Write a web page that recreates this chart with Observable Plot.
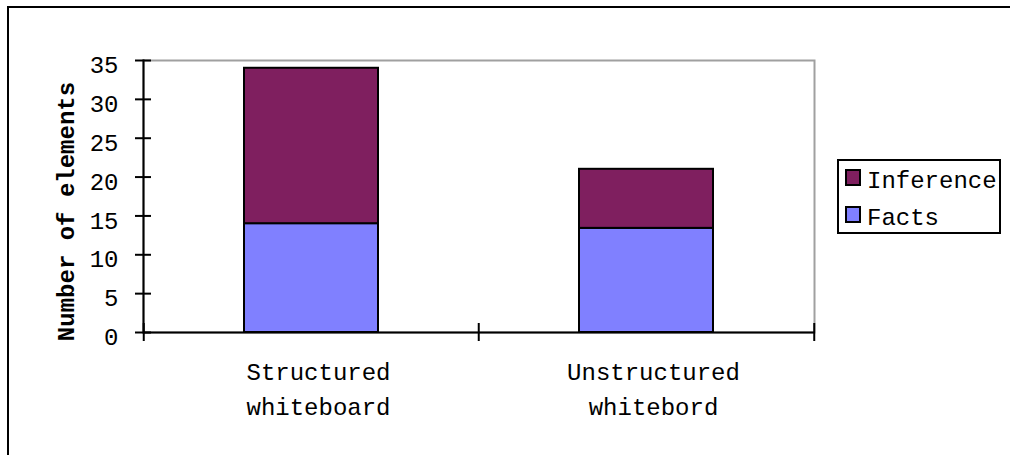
<!DOCTYPE html>
<html>
<head>
<meta charset="utf-8">
<script src="https://cdn.jsdelivr.net/npm/d3@7"></script>
<script src="https://cdn.jsdelivr.net/npm/@observablehq/plot@0.6"></script>
<style>
  html, body { margin: 0; padding: 0; background: #fff; }
  #wrap { position: relative; width: 1010px; height: 455px; overflow: hidden;
          font-family: "Liberation Mono", "Courier New", monospace; }
  #outline { position: absolute; left: 7px; top: 6px; width: 2000px; height: 2000px;
             border-left: 2px solid #000; border-top: 2px solid #000; }
  #chart { position: absolute; left: 0; top: 0; }
  #legend { position: absolute; left: 837px; top: 159px; width: 160px; height: 71px;
            border: 2px solid #000; background: #fff; }
  .row { position: absolute; left: 0; font-size: 24px; line-height: 24px; white-space: nowrap; color: #000; }
  .sw { position: absolute; width: 12px; height: 13px; border: 2px solid #000; }
</style>
</head>
<body>
<div id="wrap">
  <div id="outline"></div>
  <div id="chart"></div>
  <div id="legend"></div>
</div>
<script>
// Categories on the x axis (line break splits the label in two lines)
const categories = ["Structured\nwhiteboard", "Unstructured\nwhitebord"];
// Stacked series, bottom first
const seriesNames = ["Facts", "Inference"];
const facts = [14, 13.4];
const inference = [20, 7.6];
const seriesColors = ["#8080ff", "#7f1f5f"];
const yTicks = [0, 5, 10, 15, 20, 25, 30, 35];
const yTitle = "Number of elements";

const rows = categories.flatMap((c, i) => [
  {category: c, series: seriesNames[0], value: facts[i]},
  {category: c, series: seriesNames[1], value: inference[i]}
]);

const W = 1010, H = 455;
const mL = 143, mR = 196, mT = 60, mB = 123;
// with paddingInner 0.6 and paddingOuter 0.3 one band step is plot width / n
const step = (W - mL - mR) / categories.length;

const chart = Plot.plot({
  width: W,
  height: H,
  marginLeft: mL,
  marginRight: mR,
  marginTop: mT,
  marginBottom: mB,
  style: {fontFamily: "'Liberation Mono', 'Courier New', monospace", fontSize: "24px",
          color: "#000", background: "transparent", overflow: "visible"},
  x: {domain: categories, paddingInner: 0.6, paddingOuter: 0.3, axis: null},
  y: {domain: [0, 35], axis: null},
  color: {domain: seriesNames, range: seriesColors},
  marks: [
    Plot.frame({stroke: "#a0a0a0", strokeWidth: 2}),
    Plot.barY(rows, {x: "category", y: "value", fill: "series", stroke: "#000", strokeWidth: 2}),
    Plot.frame({anchor: "left", stroke: "#000", strokeWidth: 2}),
    Plot.ruleY([0], {stroke: "#000", strokeWidth: 2}),
    // y ticks crossing the axis line
    Plot.axisY(yTicks, {tickSize: 16, dx: 8, tickFormat: () => "", strokeWidth: 2, label: null}),
    Plot.axisY(yTicks, {tickSize: 0, tickPadding: 25, dy: 5, fontSize: 24, label: null}),
    // x ticks sit between categories
    Plot.ruleX(categories, {x: (d) => d, y1: 0, y2: 0, insetTop: -9, insetBottom: -9,
                            dx: -step / 2, stroke: "#000", strokeWidth: 2}),
    Plot.ruleX(categories.slice(-1), {x: (d) => d, y1: 0, y2: 0, insetTop: -9, insetBottom: -9,
                                      dx: step / 2, stroke: "#000", strokeWidth: 2}),
    Plot.axisX({tickSize: 0, tickPadding: 23, dx: 7, lineHeight: 35 / 24, fontSize: 24, label: null}),
    Plot.text([yTitle], {frameAnchor: "left", textAnchor: "middle", rotate: -90, dx: -77, dy: 15,
                         fontWeight: "bold", fontSize: 24, fill: "#000"})
  ]
});
document.getElementById("chart").append(chart);

// legend, top entry is the top of the stack
const legend = document.getElementById("legend");
const entries = seriesNames.map((name, i) => ({name, color: seriesColors[i]})).reverse();
entries.forEach((e, i) => {
  const top = 8 + i * 37;
  const sw = document.createElement("div");
  sw.className = "sw";
  sw.style.left = "6px";
  sw.style.top = top + "px";
  sw.style.background = e.color;
  legend.append(sw);
  const t = document.createElement("div");
  t.className = "row";
  t.style.left = "28px";
  t.style.top = (top + 1) + "px";
  t.textContent = e.name;
  legend.append(t);
});
</script>
</body>
</html>
